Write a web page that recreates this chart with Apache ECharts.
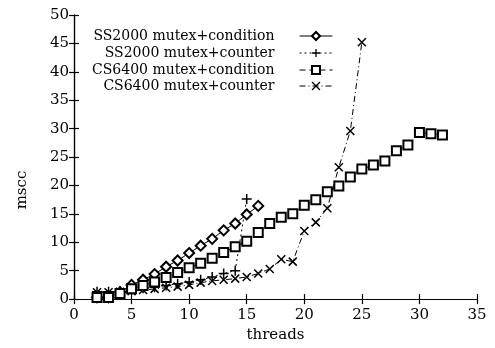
<!DOCTYPE html>
<html>
<head>
<meta charset="utf-8">
<script src="https://cdn.jsdelivr.net/npm/echarts@6/dist/echarts.min.js"></script>
<style>html,body{margin:0;padding:0;background:#fff}#c{width:495px;height:348px}</style>
</head>
<body>
<div id="c"></div>
<script>
var xTicks = [0, 5, 10, 15, 20, 25, 30, 35];
var yTicks = [0, 5, 10, 15, 20, 25, 30, 35, 40, 45, 50];
var seriesNames = ['SS2000 mutex+condition', 'SS2000 mutex+counter', 'CS6400 mutex+condition', 'CS6400 mutex+counter'];

var ssCondX = [2, 3, 4, 5, 6, 7, 8, 9, 10, 11, 12, 13, 14, 15, 16];
var ssCondY = [0.3, 0.3, 1.2, 2.5, 3.4, 4.4, 5.7, 6.8, 8.1, 9.4, 10.6, 12.1, 13.3, 14.9, 16.4];

var ssCntX = [2, 3, 4, 5, 6, 7, 8, 9, 10, 11, 12, 13, 14, 15];
var ssCntY = [1.3, 1.3, 1.4, 1.6, 1.9, 2.1, 2.4, 2.7, 3.0, 3.4, 3.9, 4.5, 5.0, 17.6];

var csCondX = [2, 3, 4, 5, 6, 7, 8, 9, 10, 11, 12, 13, 14, 15, 16, 17, 18, 19, 20, 21, 22, 23, 24, 25, 26, 27, 28, 29, 30, 31, 32];
var csCondY = [0.3, 0.3, 1.0, 1.8, 2.4, 3.0, 3.8, 4.7, 5.5, 6.3, 7.2, 8.2, 9.2, 10.2, 11.7, 13.3, 14.4, 15.0, 16.5, 17.5, 18.9, 19.9, 21.5, 22.9, 23.6, 24.3, 26.1, 27.1, 29.3, 29.1, 28.9];

var csCntX = [2, 3, 4, 5, 6, 7, 8, 9, 10, 11, 12, 13, 14, 15, 16, 17, 18, 19, 20, 21, 22, 23, 24, 25];
var csCntY = [1.2, 1.2, 1.3, 1.4, 1.6, 1.8, 2.0, 2.2, 2.5, 2.9, 3.2, 3.4, 3.6, 3.9, 4.5, 5.3, 7.0, 6.6, 12.0, 13.5, 16.0, 23.2, 29.6, 45.2];

function zip(xs, ys) { return xs.map(function (x, i) { return [x, ys[i]]; }); }

var FONT = 'DejaVu Serif';
var plusPath = 'path://M0,5L10,5M5,0L5,10';
var crossPath = 'path://M0,0L10,10M10,0L0,10';

var chart = echarts.init(document.getElementById('c'), null, { renderer: 'canvas' });

function legendFor(name, top) {
  return {
    data: [name], right: 162, top: top, orient: 'vertical', align: 'right',
    padding: 0, itemWidth: 33, itemHeight: 10, selectedMode: false,
    lineStyle: { width: 1 },
    itemStyle: { borderWidth: 1.3 },
    textStyle: { fontFamily: FONT, fontSize: 14, color: '#000', padding: [0, 20, 0, 0] }
  };
}

function axisCommon(show) {
  return {
    type: 'value', min: 0,
    axisLine: { show: true, lineStyle: { color: '#000', width: 1.2 } },
    axisTick: { show: true, inside: true, length: 5, lineStyle: { color: '#000', width: 1.2 } },
    splitLine: { show: false },
    axisLabel: { show: show, color: '#000', fontFamily: FONT, fontSize: 15 }
  };
}

var xa = axisCommon(true); xa.max = 35; xa.interval = 5; xa.position = 'bottom';
xa.axisLabel.margin = 9;
xa.name = 'threads'; xa.nameLocation = 'middle'; xa.nameGap = 27;
xa.nameTextStyle = { fontFamily: FONT, fontSize: 15, color: '#000' };
var xa2 = axisCommon(false); xa2.max = 35; xa2.interval = 5; xa2.position = 'top';
var ya = axisCommon(true); ya.max = 50; ya.interval = 5; ya.position = 'left'; ya.axisLabel.margin = 5;
var ya2 = axisCommon(false); ya2.max = 50; ya2.interval = 5; ya2.position = 'right';

var option = {
  backgroundColor: '#fff',
  animation: false,
  grid: { left: 74, right: 18, top: 15, bottom: 41, containLabel: false },
  legend: [
    legendFor(seriesNames[0], 29),
    legendFor(seriesNames[1], 46),
    legendFor(seriesNames[2], 63),
    legendFor(seriesNames[3], 79)
  ],
  xAxis: [xa, xa2],
  yAxis: [ya, ya2],
  graphic: [{
    type: 'text', x: 22, y: 190, rotation: Math.PI / 2,
    style: { text: 'mscc', fontFamily: FONT, fontSize: 15, fill: '#000', textAlign: 'center', textVerticalAlign: 'middle' }
  }],
  series: [
    {
      name: seriesNames[0], type: 'line', data: zip(ssCondX, ssCondY),
      symbol: 'emptyDiamond', symbolSize: 10, z: 4,
      lineStyle: { color: '#000', width: 1, type: 'solid' },
      itemStyle: { color: '#000', borderColor: '#000', borderWidth: 1.5 }
    },
    {
      name: seriesNames[1], type: 'line', data: zip(ssCntX, ssCntY),
      symbol: plusPath, symbolSize: 10, z: 3,
      lineStyle: { color: '#000', width: 1, type: [2, 3] },
      itemStyle: { color: 'none', borderColor: '#000', borderWidth: 1.5 }
    },
    {
      name: seriesNames[2], type: 'line', data: zip(csCondX, csCondY),
      symbol: 'emptyRect', symbolSize: 9, z: 4,
      lineStyle: { color: '#000', width: 1, type: [6, 4] },
      itemStyle: { color: '#000', borderColor: '#000', borderWidth: 1.4 }
    },
    {
      name: seriesNames[3], type: 'line', data: zip(csCntX, csCntY),
      symbol: crossPath, symbolSize: 8, z: 3,
      lineStyle: { color: '#000', width: 1, type: [6, 3, 1, 3] },
      itemStyle: { color: 'none', borderColor: '#000', borderWidth: 1.5 }
    }
  ]
};
chart.setOption(option);
</script>
</body>
</html>
